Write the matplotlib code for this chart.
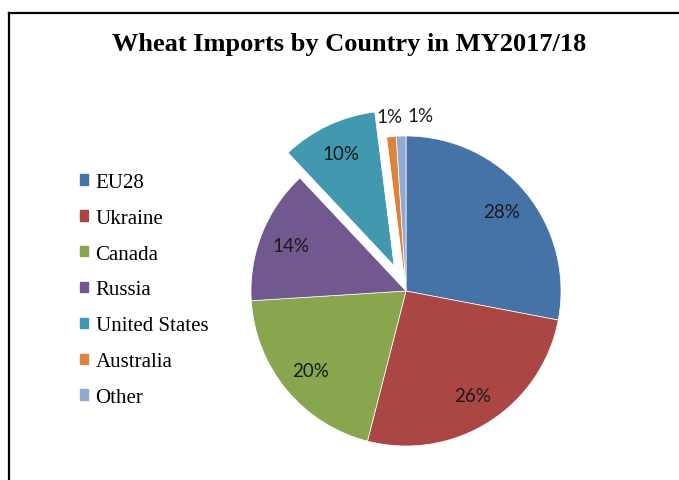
import numpy as np
import matplotlib.pyplot as plt
from matplotlib.lines import Line2D

countries = ["EU28", "Ukraine", "Canada", "Russia", "United States", "Australia", "Other"]
shares = [28, 26, 20, 14, 10, 1, 1]
colors = ["#4572A7", "#AA4643", "#89A54E", "#71588F", "#4198AF", "#DB843D", "#93A9CF"]
explode = [0, 0, 0, 0, 0.18, 0, 0]

W, H = 679, 481
fig = plt.figure(figsize=(W / 100, H / 100), dpi=100)

# pie axes: center at (406, 292) px, radius 155 px
R = 155
L = 1.3
cx, cy = 406, 292
side = 2 * L * R
ax = fig.add_axes([(cx - side / 2) / W, (H - cy - side / 2) / H, side / W, side / H])

wedges, texts, pcts = ax.pie(shares, colors=colors, explode=explode, startangle=90,
                             counterclock=False, autopct="%1.0f%%", pctdistance=0.8,
                             wedgeprops=dict(linewidth=0.5, edgecolor="white"),
                             textprops=dict(family="Lato", fontsize=13.5, color="#1a1a1a"),
                             radius=1, frame=False)
ax.set_xlim(-L, L)
ax.set_ylim(-L, L)
ax.set_aspect("auto")
ax.axis("off")

# small slices: labels outside above the pie
for i, ha, dx in [(5, "right", 0.085), (6, "left", 0.045)]:
    w = wedges[i]
    mid = np.deg2rad((w.theta1 + w.theta2) / 2)
    pcts[i].set_position((1.13 * np.cos(mid) + dx, 1.13 * np.sin(mid)))
    pcts[i].set_ha(ha)

# legend
handles = [plt.Rectangle((0, 0), 1, 1, color=c) for c in colors]
fig.legend(handles, countries, loc="center left", bbox_to_anchor=(80 / W, 1 - 291 / H),
           frameon=False, prop=dict(family="Liberation Serif", size=15),
           handlelength=0.4, handleheight=0.4, handletextpad=0.35, labelspacing=0.81,
           borderaxespad=0, borderpad=0)

fig.text(349 / W, 1 - 45 / H, "Wheat Imports by Country in MY2017/18", ha="center", va="center",
         family="Liberation Serif", fontweight="bold", fontsize=19)

# border (top and left only)
fig.add_artist(Line2D([8.5 / W, 1], [1 - 14 / H, 1 - 14 / H], color="black", lw=1.6))
fig.add_artist(Line2D([8.5 / W, 8.5 / W], [0, 1 - 14 / H], color="black", lw=1.6))

fig.savefig("out.png", dpi=100)
